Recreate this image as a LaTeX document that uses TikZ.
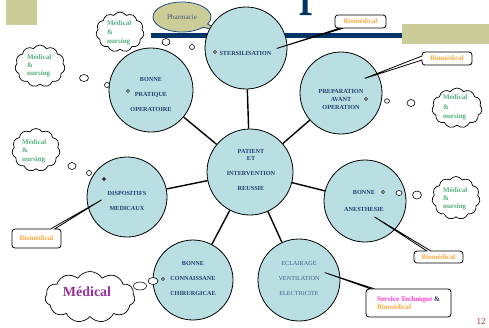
\documentclass[tikz,border=0pt]{standalone}
\usepackage{fontspec}
\setmainfont{Liberation Serif}
\usetikzlibrary{shapes.symbols,shapes.callouts,shapes.geometric}
\definecolor{olive}{HTML}{CCCC99}
\definecolor{navybar}{HTML}{003366}
\definecolor{circfill}{HTML}{BADFE3}
\definecolor{circtext}{HTML}{1F3D6D}
\definecolor{ltext}{HTML}{3D6088}
\definecolor{medgreen}{HTML}{52B07C}
\definecolor{bioorange}{HTML}{FFA940}
\definecolor{svcmag}{HTML}{FF33CC}
\definecolor{medpurple}{HTML}{993399}
\definecolor{pharmtext}{HTML}{3F5A6F}
\definecolor{pharmedge}{HTML}{1F4E79}
\definecolor{pagered}{HTML}{993333}
\begin{document}
\begin{tikzpicture}[x=1pt,y=-1pt,
  topic/.style={circle, draw=black, line width=0.8pt, fill=circfill, inner sep=0pt, minimum size=#1},
  topictext/.style={inner sep=0pt, align=center, text=circtext, font=\fontsize{6.2}{#1}\selectfont\bfseries},
  lighttext/.style={inner sep=0pt, align=center, text=ltext, font=\fontsize{6.2}{#1}\selectfont},
  link/.style={draw=black, line width=1.4pt},
  cloudnote/.style={cloud, cloud puffs=11, cloud puff arc=115, cloud ignores aspect, draw=black, line width=0.7pt, fill=white, inner sep=0pt},
  greentext/.style={inner sep=0pt, align=left, anchor=west, text=medgreen, font=\fontsize{7}{#1}\selectfont\bfseries},
  bubble/.style={ellipse, draw=black, line width=0.6pt, fill=white, inner sep=0pt},
  ring/.style={circle, draw=black, line width=0.6pt, fill=white, inner sep=0pt, minimum size=3pt},
  notebox/.style={rectangle callout, rounded corners=3pt, draw=black, line width=0.8pt, fill=white, inner sep=0pt, callout pointer width=4pt, font=\fontsize{7.1}{8}\selectfont\bfseries, text=bioorange, align=left}
]
\useasboundingbox (0,0) rectangle (489,327);
% decorations
\fill[olive] (6,0) rectangle (37,25);
\fill[navybar] (151,33) rectangle (402,38);
\fill[olive] (402,24) rectangle (489,44);
% visible stem of the cut-off title letter
\fill[navybar] (302.5,0) -- (307.5,0) -- (307.5,12.5) -- (311.5,13.5) -- (311.5,15) -- (299.5,15) -- (299.5,13.5) -- (302.5,12.5) -- cycle;
\node[anchor=north, inner sep=0pt, text=pagered, font=\fontsize{9}{9}\selectfont] (pagenum) at (481,318) {12};

% Pharmacie callout
\node[ellipse callout, fill=olive, draw=pharmedge, line width=0.8pt, minimum width=58pt, minimum height=30pt, inner sep=0pt,
  callout absolute pointer={(228,34)}, text=pharmtext, font=\fontsize{7.1}{8}\selectfont] (pharma) at (182,17) {Pharmacie};

% topic circles
\node[topic=86pt] (pat) at (250,172) {};
\node[topic=82pt] (ster) at (246,48) {};
\node[topic=84pt] (bpo) at (151,90) {};
\node[topic=82pt] (prep) at (341,93) {};
\node[topic=80pt] (disp) at (127,197) {};
\node[topic=82pt] (anes) at (365,201) {};
\node[topic=80pt] (conn) at (193,280) {};
\node[topic=82pt] (ecl) at (299,280) {};

\draw[link] (pat) -- (ster);
\draw[link] (pat) -- (bpo);
\draw[link] (pat) -- (prep);
\draw[link] (pat) -- (disp);
\draw[link] (pat) -- (anes);
\draw[link] (pat) -- (conn);
\draw[link] (pat) -- (ecl);

\node[topictext=7] (tster) at (245.5,53) {STERSILISATION};
\node[topictext=15] (tbpo) at (151,94) {BONNE\\PRATIQUE\\OPERATOIRE};
\node[topictext=8] (tprep) at (341,99) {PREPARATION\\AVANT\\OPERATION};
\node[topictext=15] (tpat) at (251,170) {PATIENT\\[-8pt]ET\\INTERVENTION\\REUSSIE};
\node[topictext=15] (tdisp) at (127,200.5) {DISPOSITIFS\\MEDICAUX};
\node[topictext=17] (tanes) at (364,200.5) {BONNE\\ANESTHESIE};
\node[topictext=15] (tconn) at (193,278) {BONNE\\CONNAISSANE\\CHIRURGICAE};
\node[lighttext=15] (tecl) at (299,278) {ECLAIRAGE\\VENTILATION\\ELECTRICITE};

% rings inside circles
\node[ring] (rster) at (215,52) {};
\node[ring] (rbpo) at (128,91) {};
\node[ring] (rprep) at (366,99) {};
\node[ring] (ranes) at (383,192) {};
\node[ring, fill=gray!70!black] (rdisp) at (104,179) {};
\node[ring] (rconn) at (163,279) {};

% clouds with green text
\node[cloudnote, minimum width=48pt, minimum height=40pt] (c1) at (120,32) {};
\node[greentext=9] (t1) at (107,33) {Médical\\\&\\nursing};
\node[bubble, minimum width=8pt, minimum height=7pt] (b1a) at (166,42) {};
\node[bubble, minimum width=5pt, minimum height=5pt] (b1b) at (192,47) {};

\node[cloudnote, minimum width=50pt, minimum height=42pt] (c2) at (40,66) {};
\node[greentext=8] (t2) at (27,66) {Médical\\\&\\nursing};
\node[bubble, minimum width=9pt, minimum height=7pt] (b2a) at (84,78) {};
\node[bubble, minimum width=5pt, minimum height=5pt] (b2b) at (107,85) {};

\node[cloudnote, minimum width=48pt, minimum height=43pt] (c3) at (36,150) {};
\node[greentext=8.5] (t3) at (22,151) {Médical\\\&\\nursing};
\node[bubble, minimum width=8pt, minimum height=7pt] (b3a) at (72,166) {};
\node[bubble, minimum width=5pt, minimum height=5pt] (b3b) at (89,173) {};

\node[cloudnote, minimum width=50pt, minimum height=40pt] (c4) at (457,108) {};
\node[greentext=9.5] (t4) at (443,107.5) {Médical\\\&\\nursing};
\node[bubble, minimum width=5pt, minimum height=4.5pt] (b4a) at (387,101) {};
\node[bubble, minimum width=8pt, minimum height=7pt] (b4b) at (411,103) {};

\node[cloudnote, minimum width=48pt, minimum height=43pt] (c5) at (456,198) {};
\node[greentext=8] (t5) at (443,199) {Médical\\\&\\nursing};
\node[bubble, minimum width=6pt, minimum height=5pt] (b5a) at (399,193) {};
\node[bubble, minimum width=9pt, minimum height=8pt] (b5b) at (417,195) {};

\node[cloudnote, minimum width=90pt, minimum height=51pt] (c6) at (90,297) {};
\node[inner sep=0pt, text=medpurple, font=\fontsize{14}{14}\selectfont\bfseries] (t6) at (87,292) {Médical};
\node[bubble, minimum width=10pt, minimum height=7pt] (b6a) at (153,281) {};
\node[bubble, minimum width=13pt, minimum height=8pt] (b6b) at (140,286) {};

% Biomedical callouts
\node[notebox, minimum width=51pt, minimum height=13pt, callout absolute pointer={(275,49)}] (bio1) at (360.5,21.5) {Biomédical};
\node[notebox, minimum width=50pt, minimum height=13pt, callout absolute pointer={(363,79)}] (bio2) at (447,58.5) {Biomédical};
\node[notebox, minimum width=49pt, minimum height=19pt, callout absolute pointer={(103,199)}] (bio3) at (36.5,238.5) {Biomédical};
\node[notebox, minimum width=49pt, minimum height=12pt, callout absolute pointer={(373,216)}] (bio4) at (438.5,257) {Biomédical};
\node[notebox, minimum width=85pt, minimum height=28pt, callout absolute pointer={(323,272)}] (svc) at (408.5,303) {\textcolor{svcmag}{Service Technique} \textcolor{circtext}{\&}\\Biomédical};
\end{tikzpicture}
\end{document}
